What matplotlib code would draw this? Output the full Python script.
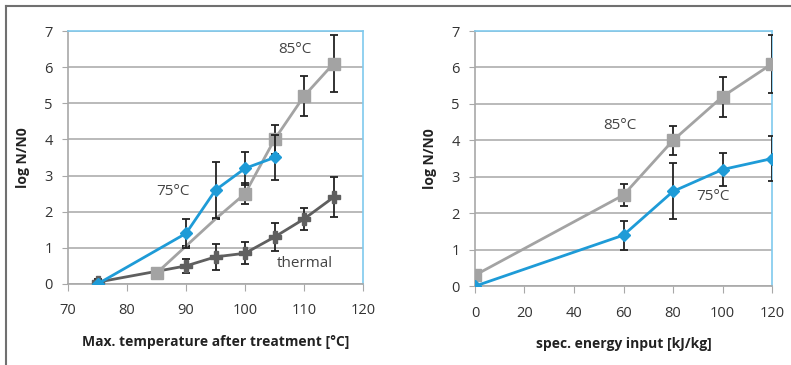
import numpy as np
import matplotlib.pyplot as plt
from matplotlib.lines import Line2D

plt.rcParams['font.family'] = ['Open Sans', 'DejaVu Sans']

# left panel: max. temperature after treatment
t75 = [75, 90, 95, 100, 105]
y75 = [0.0, 1.4, 2.6, 3.2, 3.5]
e75 = [0.0, 0.4, 0.77, 0.45, 0.62]

t85 = [85, 90, 95, 100, 105, 110, 115]
y85 = [0.3, 1.05, 1.8, 2.5, 4.0, 5.2, 6.1]
e85 = [0.0, 0.0, 0.0, 0.3, 0.4, 0.55, 0.8]
m85 = [0, 3, 4, 5, 6]   # points with markers

tth = [75, 90, 95, 100, 105, 110, 115]
yth = [0.05, 0.5, 0.75, 0.85, 1.3, 1.8, 2.4]
eth = [0.1, 0.2, 0.35, 0.3, 0.4, 0.3, 0.55]

# right panel: spec. energy input
en = [0, 60, 80, 100, 120]
r85 = [0.3, 2.5, 4.0, 5.2, 6.1]
re85 = [0.0, 0.3, 0.4, 0.55, 0.8]
r75 = [0.0, 1.4, 2.6, 3.2, 3.5]
re75 = [0.0, 0.4, 0.77, 0.45, 0.62]

blue = '#1e9bd7'
lgray = '#a3a3a3'
dgray = '#5f5f5f'
ecol = '#222222'
edge_blue = '#7fcaee'
gridc = '#b4b4b4'

fig = plt.figure(figsize=(7.91, 3.65), dpi=100)
ax1 = fig.add_axes([0.086, 0.222, 0.373, 0.693])
ax2 = fig.add_axes([0.6005, 0.216, 0.3755, 0.699])

ekw = dict(ecolor=ecol, elinewidth=1.3, capsize=3, capthick=1.3)

def style(ax, xlim, xticks, xlabel):
    ax.set_xlim(*xlim)
    ax.set_ylim(0, 7)
    ax.set_xticks(xticks)
    ax.set_yticks(range(8))
    ax.grid(axis='y', color=gridc, lw=1.3)
    ax.set_axisbelow(True)
    for s in ['left', 'bottom']:
        ax.spines[s].set_color('#a8a8a8')
        ax.spines[s].set_linewidth(1.2)
    for s in ['top', 'right']:
        ax.spines[s].set_color(edge_blue)
        ax.spines[s].set_linewidth(1.2)
    ax.tick_params(axis='x', length=5, color='#a8a8a8', labelsize=10.5, labelcolor='#333333', pad=9)
    ax.tick_params(axis='y', length=4, color='#a8a8a8', labelsize=10.5, labelcolor='#333333', pad=7)
    ax.set_xlabel(xlabel, fontsize=10, fontweight='bold', color='#222222', labelpad=12)
    ax.set_ylabel('log N/N0', fontsize=10, fontweight='bold', color='#222222', labelpad=10)

# left
ax1.errorbar(tth, yth, yerr=eth, color=dgray, lw=2, marker='P', ms=9,
             mec=dgray, mfc=dgray, zorder=3, **ekw)
ax1.errorbar(t85, y85, yerr=e85, color=lgray, lw=2, marker='s', ms=9,
             mec=lgray, mfc=lgray, markevery=m85, zorder=4, **ekw)
ax1.errorbar(t75, y75, yerr=e75, color=blue, lw=2, marker='D', ms=6.5,
             mec=blue, mfc=blue, zorder=5, **ekw)
style(ax1, (70, 120), range(70, 121, 10), 'Max. temperature after treatment [°C]')
ax1.text(108.5, 6.5, '85°C', fontsize=11, color='#444444', ha='center', va='center')
ax1.text(87.8, 2.57, '75°C', fontsize=11, color='#444444', ha='center', va='center')
ax1.text(110.2, 0.58, 'thermal', fontsize=11, color='#444444', ha='center', va='center')

# right
ax2.errorbar(en, r85, yerr=re85, color=lgray, lw=2, marker='s', ms=9,
             mec=lgray, mfc=lgray, zorder=4, **ekw)
ax2.errorbar(en, r75, yerr=re75, color=blue, lw=2, marker='D', ms=6.5,
             mec=blue, mfc=blue, zorder=5, **ekw)
style(ax2, (0, 120), range(0, 121, 20), 'spec. energy input [kJ/kg]')
ax2.text(58.6, 4.4, '85°C', fontsize=11, color='#444444', ha='center', va='center')
ax2.text(96.2, 2.45, '75°C', fontsize=11, color='#444444', ha='center', va='center')

# outer frame (top and left edges visible)
fig.add_artist(Line2D([0.008, 1.0], [0.983, 0.983], color='#707070', lw=1.5))
fig.add_artist(Line2D([0.008, 0.008], [0.0, 0.983], color='#707070', lw=1.5))

fig.savefig('out.png', dpi=100)
